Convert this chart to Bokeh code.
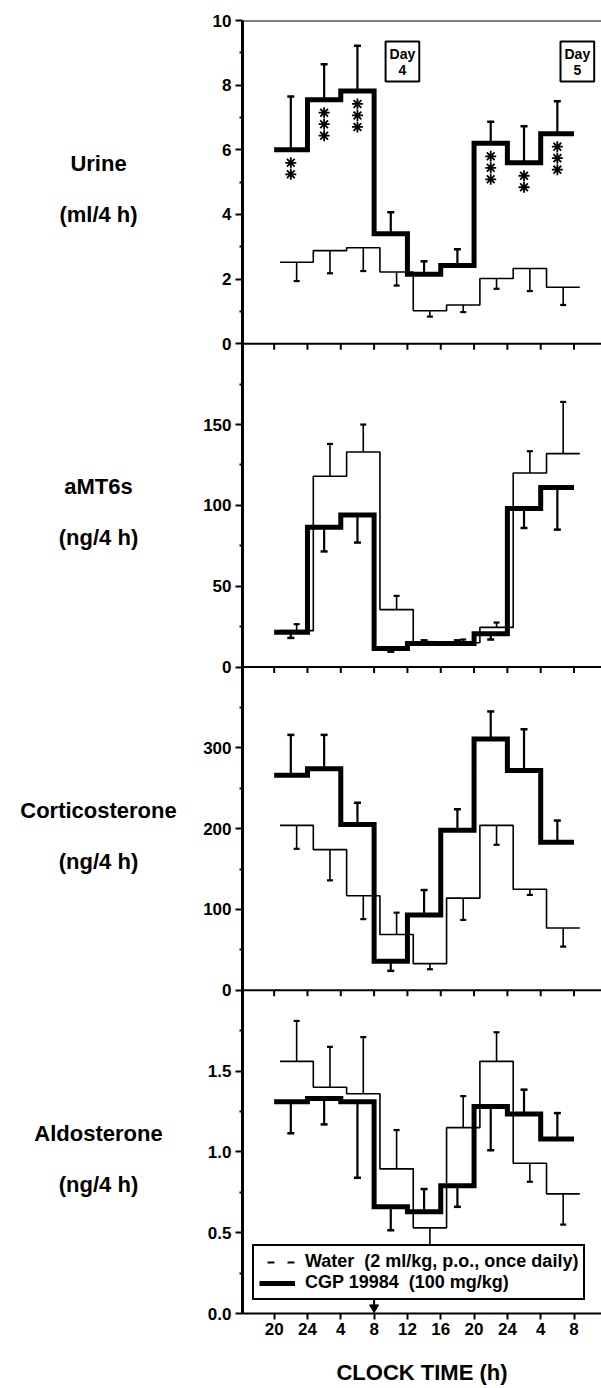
import numpy as np
from bokeh.plotting import figure
from bokeh.layouts import row
from bokeh.models import FixedTicker, Span, Label, Legend, LegendItem, Range1d
from bokeh.core.properties import value
from bokeh.embed import file_html
from bokeh.resources import INLINE

# ---------------- data ----------------
bin_start = [20, 24, 28, 32, 36, 40, 44, 48, 52]     # start of each 4-h collection (continuous clock hours)
bin_width = 4
x_ticks = [20, 24, 28, 32, 36, 40, 44, 48, 52, 56]
x_tick_labels = ["20", "24", "4", "8", "12", "16", "20", "24", "4", "8"]
dose_hour = [32]                                      # arrow: dosing at 08:00
day_label_hours = [35.4, 56.4]
day_labels = ["Day\n4", "Day\n5"]

# Urine (ml/4 h)
urine_cgp = [6.0, 7.55, 7.82, 3.4, 2.15, 2.42, 6.2, 5.6, 6.5]
urine_cgp_err = [1.65, 1.1, 1.4, 0.67, 0.4, 0.5, 0.67, 1.13, 1.0]
urine_water = [2.52, 2.88, 2.97, 2.22, 1.02, 1.2, 2.02, 2.33, 1.75]
urine_water_err = [-0.58, -0.7, -0.72, -0.42, -0.18, -0.22, -0.32, -0.7, -0.55]
urine_sig = [2, 3, 3, 0, 0, 0, 3, 2, 3]                # number of asterisks

# aMT6s (ng/4 h)
amt_cgp = [21.5, 86.5, 94.0, 11.5, 14.5, 14.5, 20.5, 98.0, 111.0]
amt_cgp_err = [-3.5, -15, -17, -2, 2, 2, -3.5, -12, -26]
amt_water = [22.5, 118, 133, 35.5, 13.5, 15, 24.5, 120, 132]
amt_water_err = [4, 20, 17, 8.5, 2, 2, 3, 13.5, 32]

# Corticosterone (ng/4 h)
cort_cgp = [266, 274, 205, 36, 93, 198, 311, 272, 183]
cort_cgp_err = [50, 42, 27, -12, 31, 26, 34, 51, 27]
cort_water = [204, 174, 117, 69, 33, 114, 204, 125, 77]
cort_water_err = [-29, -38, -29, 27, -7, -27, -24, -7, -23]

# Aldosterone (ng/4 h)
aldo_cgp = [1.31, 1.33, 1.31, 0.66, 0.63, 0.79, 1.28, 1.235, 1.08]
aldo_cgp_err = [-0.195, -0.16, -0.47, -0.145, 0.14, -0.13, -0.27, 0.15, 0.16]
aldo_water = [1.56, 1.40, 1.36, 0.895, 0.53, 1.15, 1.56, 0.93, 0.74]
aldo_water_err = [0.25, 0.25, 0.35, 0.24, -0.11, 0.195, 0.18, -0.115, -0.19]

panel_titles = [("Urine", "(ml/4 h)"), ("aMT6s", "(ng/4 h)"),
                ("Corticosterone", "(ng/4 h)"), ("Aldosterone", "(ng/4 h)")]
panel_max = [10, 200, 400, 2.0]
panel_major = [2, 50, 100, 0.5]
panel_minor = [1, 25, 50, 0.25]
panel_fmt = ["{:.0f}", "{:.0f}", "{:.0f}", "{:.1f}"]

panels = [
    (urine_cgp, urine_cgp_err, urine_water, urine_water_err, urine_sig),
    (amt_cgp, amt_cgp_err, amt_water, amt_water_err, None),
    (cort_cgp, cort_cgp_err, cort_water, cort_water_err, None),
    (aldo_cgp, aldo_cgp_err, aldo_water, aldo_water_err, None),
]

# ---------------- layout constants ----------------
W, H = 601, 1388
LW = 190                      # width of the title column
LEFT, TOP, BOTTOM = 52, 20, 75
XR = (16.2, 59.3)
BAND_PX = (H - TOP - BOTTOM) / 4.0
PX_PER_H = (W - LW - LEFT) / (XR[1] - XR[0])
WATER_SHIFT = 0.7
FONT = "Liberation Sans"

# title column
t = figure(width=LW, height=H, output_backend="svg", toolbar_location=None,
           x_range=Range1d(0, LW), y_range=Range1d(0, 4),
           min_border_left=0, min_border_right=0, min_border_top=TOP,
           min_border_bottom=BOTTOM, outline_line_color=None)
t.axis.visible = False
t.grid.visible = False

p = figure(width=W - LW, height=H, output_backend="svg", toolbar_location=None,
           x_range=Range1d(*XR), y_range=Range1d(0, 4),
           min_border_left=LEFT, min_border_right=0, min_border_top=TOP,
           min_border_bottom=BOTTOM, outline_line_color=None)
p.grid.visible = False

major_pos, major_lbl, minor_pos = [], {}, []
for k, (ymax, mj, mn, fmt) in enumerate(zip(panel_max, panel_major, panel_minor, panel_fmt)):
    base = 3 - k
    n = int(round(ymax / mj))
    for i in range(n + 1):
        v = i * mj
        pos = round(base + v / ymax, 6)
        if pos in major_lbl:
            continue
        major_pos.append(pos)
        major_lbl[pos] = fmt.format(v)
    m = int(round(ymax / mn))
    for i in range(1, m):
        v = i * mn
        pos = round(base + v / ymax, 6)
        if pos not in major_lbl:
            minor_pos.append(pos)

yax = p.yaxis[0]
yax.ticker = FixedTicker(ticks=major_pos, minor_ticks=minor_pos)
yax.major_label_overrides = major_lbl
yax.axis_line_width = 3
yax.major_tick_out = 7
yax.major_tick_in = 0
yax.major_tick_line_width = 2
yax.minor_tick_out = 3
yax.minor_tick_in = 0
yax.minor_tick_line_width = 2
yax.major_label_standoff = 4
yax.major_label_text_font = FONT
yax.major_label_text_font_style = "bold"
yax.major_label_text_font_size = "17px"
yax.major_label_text_color = "black"

xax = p.xaxis[0]
xax.ticker = FixedTicker(ticks=x_ticks, minor_ticks=[])
xax.major_label_overrides = {tk: l for tk, l in zip(x_ticks, x_tick_labels)}
xax.axis_line_width = 2
xax.major_tick_out = 6
xax.major_tick_in = 0
xax.major_tick_line_width = 2
xax.minor_tick_out = 0
xax.minor_tick_in = 0
xax.major_label_standoff = 3
xax.major_label_text_font = FONT
xax.major_label_text_font_style = "bold"
xax.major_label_text_font_size = "17px"
xax.major_label_text_color = "black"
xax.axis_label = "CLOCK TIME (h)"
xax.axis_label_text_font = FONT
xax.axis_label_text_font_style = "bold"
xax.axis_label_text_font_size = "22px"
xax.axis_label_text_color = "black"
xax.axis_label_standoff = 22

# panel separators and top border
for yb in [1, 2, 3, 4]:
    p.add_layout(Span(location=yb, dimension="width", line_color="black", line_width=2))
tick_len = 6 / BAND_PX
for yb in [1, 2, 3]:
    p.segment(x0=x_ticks, y0=[yb] * len(x_ticks), x1=x_ticks, y1=[yb - tick_len] * len(x_ticks),
              line_color="black", line_width=2)

centers = [b + bin_width / 2 for b in bin_start]
edges = bin_start + [bin_start[-1] + bin_width]

for k, (cgp, cgp_err, water, water_err, sig) in enumerate(panels):
    base = 3 - k
    ymax = panel_max[k]
    tf = lambda arr: [base + v / ymax for v in arr]

    # water (thin)
    wx = [e + WATER_SHIFT for e in edges]
    p.step(x=wx, y=tf(water + [water[-1]]), mode="after", line_color="black", line_width=1.6)
    wc = [c + WATER_SHIFT for c in centers]
    wtip = [v + e for v, e in zip(water, water_err)]
    p.segment(x0=wc, y0=tf(water), x1=wc, y1=tf(wtip), line_color="black", line_width=1.6)
    p.scatter(x=wc, y=tf(wtip), marker="dash", size=6, line_color="black", line_width=2.2)

    # CGP (thick)
    p.step(x=edges, y=tf(cgp + [cgp[-1]]), mode="after", line_color="black", line_width=5,
           line_join="miter")
    ctip = [v + e for v, e in zip(cgp, cgp_err)]
    p.segment(x0=centers, y0=tf(cgp), x1=centers, y1=tf(ctip), line_color="black", line_width=2.2)
    p.scatter(x=centers, y=tf(ctip), marker="dash", size=7, line_color="black", line_width=2.5)

    if sig:
        sx, sy = [], []
        for c, v, n in zip(centers, cgp, sig):
            for i in range(n):
                sx.append(c)
                sy.append(base + v / ymax - (13 + 11.5 * i) / BAND_PX)
        p.scatter(x=sx, y=sy, marker="asterisk", size=11, line_color="black", line_width=1.8)

    # left titles
    t1, t2 = panel_titles[k]
    t.text(x=[98, 98], y=[base + 0.5 + 18.5 / BAND_PX, base + 0.5 - 32.5 / BAND_PX],
           text=[t1, t2], text_align="center", text_baseline="middle",
           text_font=value(FONT), text_font_style="bold", text_font_size="22px",
           text_color="black")

# day boxes
for h, tx in zip(day_label_hours, day_labels):
    p.add_layout(Label(x=h, y=4 - 41 / BAND_PX, text=tx, text_align="center", text_baseline="middle",
                       text_font=FONT, text_font_style="bold", text_font_size="14px",
                       text_line_height=1.0, text_color="black",
                       border_line_color="black", border_line_width=2,
                       background_fill_color="white", padding=4))

# dosing arrow
p.segment(x0=dose_hour, y0=[14 / BAND_PX], x1=dose_hour, y1=[8 / BAND_PX], line_color="black", line_width=2)
p.scatter(x=dose_hour, y=[6 / BAND_PX], marker="inverted_triangle", size=9, color="black")

# legend (glyph-only renderers holding NaN points)
r_w = p.line(x=[np.nan, np.nan], y=[np.nan, np.nan], line_color="black", line_width=2,
             line_dash="7 13", line_dash_offset=-8)
r_c = p.line(x=[np.nan, np.nan], y=[np.nan, np.nan], line_color="black", line_width=5)
legend = Legend(items=[LegendItem(label="Water  (2 ml/kg, p.o., once daily)", renderers=[r_w]),
                       LegendItem(label="CGP 19984  (100 mg/kg)", renderers=[r_c])],
                location=(10, 13), padding=5, spacing=0, margin=0,
                glyph_width=36, glyph_height=20, label_height=20, label_standoff=10,
                label_text_font=FONT, label_text_font_style="bold", label_text_font_size="18px",
                label_text_color="black",
                border_line_color="black", border_line_width=2, border_line_alpha=1.0,
                background_fill_alpha=1.0)
p.add_layout(legend)

layout = row(t, p, spacing=0)
open("out.html", "w").write(file_html(layout, INLINE))
